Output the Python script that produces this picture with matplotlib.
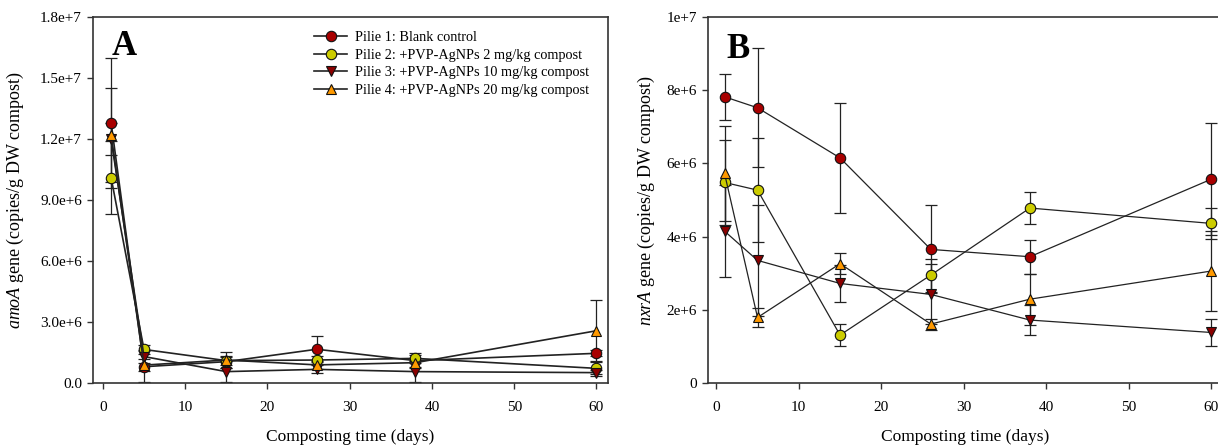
import numpy as np
import matplotlib
matplotlib.use("Agg")
from matplotlib import pyplot as plt

plt.rcParams['font.family'] = ['Liberation Serif', 'DejaVu Serif']
plt.rcParams['mathtext.fontset'] = 'custom'
plt.rcParams['mathtext.rm'] = 'Liberation Serif'
plt.rcParams['mathtext.it'] = 'Liberation Serif:italic'

days = [1, 5, 15, 26, 38, 60]

labels = ['Pilie 1: Blank control',
          'Pilie 2: +PVP-AgNPs 2 mg/kg compost',
          'Pilie 3: +PVP-AgNPs 10 mg/kg compost',
          'Pilie 4: +PVP-AgNPs 20 mg/kg compost']

# amoA copies per g DW compost, in millions
amoa_p1 = [12.8, 0.80, 1.05, 1.66, 1.10, 1.46]
amoa_p2 = [10.1, 1.65, 1.10, 1.13, 1.21, 0.72]
amoa_p3 = [12.0, 1.30, 0.56, 0.67, 0.56, 0.51]
amoa_p4 = [12.2, 0.88, 1.13, 0.89, 1.00, 2.57]
amoa_p1_err = [3.2, 0.75, 0.30, 0.65, 0.30, 0.15]
amoa_p2_err = [1.8, 0.20, 0.20, 0.20, 0.25, 0.30]
amoa_p3_err = [0.8, 0.30, 0.50, 0.20, 0.50, 0.15]
amoa_p4_err = [2.3, 0.30, 0.40, 0.20, 0.25, 1.50]

# nxrA copies per g DW compost, in millions
nxra_p1 = [7.82, 7.52, 6.15, 3.65, 3.45, 5.57]
nxra_p2 = [5.48, 5.27, 1.31, 2.95, 4.78, 4.36]
nxra_p3 = [4.15, 3.35, 2.72, 2.42, 1.72, 1.38]
nxra_p4 = [5.73, 1.79, 3.26, 1.61, 2.29, 3.06]
nxra_p1_err = [0.63, 1.63, 1.50, 1.20, 0.47, 1.53]
nxra_p2_err = [1.17, 1.43, 0.30, 0.45, 0.43, 0.42]
nxra_p3_err = [1.25, 1.52, 0.50, 0.82, 0.40, 0.38]
nxra_p4_err = [1.30, 0.25, 0.28, 0.15, 0.70, 1.10]

amoa_ticks = ['0.0', '3.0e+6', '6.0e+6', '9.0e+6', '1.2e+7', '1.5e+7', '1.8e+7']
nxra_ticks = ['0', '2e+6', '4e+6', '6e+6', '8e+6', '1e+7']

colors = ['#a80000', '#cccc00', '#8b0000', '#ff9900']
markers = ['o', 'o', 'v', '^']


def draw_panel(ax, series, errors, lw):
    handles = []
    for vals, err, c, m, lab in zip(series, errors, colors, markers, labels):
        y = np.asarray(vals) * 1e6
        e = np.asarray(err) * 1e6
        ax.errorbar(days, y, yerr=e, fmt='none', ecolor='#222222',
                    elinewidth=0.9, capsize=4, capthick=0.9, zorder=2)
        h, = ax.plot(days, y, '-', color='#222222', lw=lw, marker=m,
                     ms=7.5, mfc=c, mec='#111111', mew=0.8, zorder=3,
                     label=lab)
        handles.append(h)
    for s in ax.spines.values():
        s.set_linewidth(1.2)
        s.set_color('#333333')
    ax.tick_params(direction='out', length=4, width=1.0, color='#333333',
                   labelsize=11, pad=4)
    ax.tick_params(axis='x', pad=9)
    ax.set_xticks(range(0, 61, 10))
    ax.set_xlabel('Composting time (days)', fontsize=12.5, labelpad=11)
    return handles


fig = plt.figure(figsize=(12.18, 4.47), dpi=100)
ax1 = fig.add_axes([93 / 1218, 64 / 447, 515 / 1218, 366 / 447])
ax2 = fig.add_axes([708 / 1218, 64 / 447, 515 / 1218, 366 / 447])

hs = draw_panel(ax1, [amoa_p1, amoa_p2, amoa_p3, amoa_p4],
                [amoa_p1_err, amoa_p2_err, amoa_p3_err, amoa_p4_err], 1.2)
ax1.set_xlim(-1.2, 61.4)
ax1.set_ylim(0, 1.8e7)
ax1.set_yticks(np.arange(0, 1.81e7, 3e6))
ax1.set_yticklabels(amoa_ticks)
ax1.set_ylabel(r'$\mathit{amoA}$ gene (copies/g DW compost)', fontsize=13,
               labelpad=10)
ax1.text(0.036, 0.965, 'A', transform=ax1.transAxes, fontsize=25,
         fontweight='bold', va='top', ha='left')
ax1.legend(handles=hs, loc='upper left', bbox_to_anchor=(0.43, 0.962),
           frameon=False, fontsize=10.3, borderaxespad=0, borderpad=0,
           handlelength=2.3, handletextpad=0.55, labelspacing=0.33)

draw_panel(ax2, [nxra_p1, nxra_p2, nxra_p3, nxra_p4],
           [nxra_p1_err, nxra_p2_err, nxra_p3_err, nxra_p4_err], 0.9)
ax2.set_xlim(-1.0, 61.4)
ax2.set_ylim(0, 1e7)
ax2.set_yticks(np.arange(0, 1.01e7, 2e6))
ax2.set_yticklabels(nxra_ticks)
ax2.set_ylabel(r'$\mathit{nxrA}$ gene (copies/g DW compost)', fontsize=13,
               labelpad=7)
ax2.text(0.035, 0.955, 'B', transform=ax2.transAxes, fontsize=25,
         fontweight='bold', va='top', ha='left')

fig.savefig('out.png', dpi=100)
